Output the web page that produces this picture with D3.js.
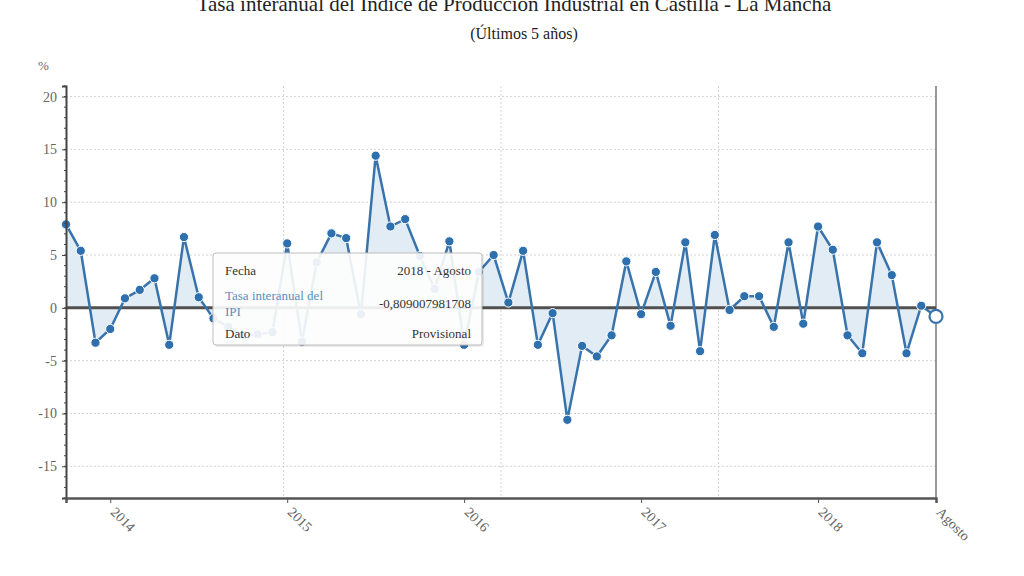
<!DOCTYPE html>
<html>
<head>
<meta charset="utf-8">
<script src="https://cdn.jsdelivr.net/npm/d3@7"></script>
<style>
  body { margin: 0; background: #fff; }
  svg { display: block; font-family: "Liberation Serif", "DejaVu Serif", serif; }
</style>
</head>
<body>
<div id="chart"></div>
<script>
// Tasa interanual del IPI, Castilla - La Mancha, monthly Sep 2013 - Aug 2018
var values = [
  7.9, 5.4, -3.3, -2.0, 0.9, 1.7, 2.8, -3.5, 6.7, 1.0,
  -1.0, -1.8, -2.6, -2.5, -2.3, 6.1, -3.2, 4.3, 7.05, 6.6,
  -0.6, 14.4, 7.7, 8.4, 4.9, 1.8, 6.3, -3.5, 3.4, 5.0,
  0.5, 5.4, -3.5, -0.5, -10.6, -3.6, -4.6, -2.6, 4.4, -0.6,
  3.4, -1.7, 6.2, -4.1, 6.9, -0.2, 1.1, 1.1, -1.8, 6.2,
  -1.5, 7.7, 5.5, -2.6, -4.3, 6.2, 3.1, -4.3, 0.2, -0.809007981708
];
var tickIndex = [3, 15, 27, 39, 51, 59];
var tickLabels = ["2014", "2015", "2016", "2017", "2018", "Agosto"];
var yTicks = [-15, -10, -5, 0, 5, 10, 15, 20];

var tooltipRows = [
  ["Fecha", "2018 - Agosto"],
  ["Tasa interanual del|IPI", "-0,809007981708"],
  ["Dato", "Provisional"]
];

var width = 1024, height = 576;
var margin = { top: 86, right: 88, bottom: 78, left: 66 };
var innerW = width - margin.left - margin.right,
  innerH = height - margin.top - margin.bottom;

var svg = d3.select("#chart").append("svg")
  .attr("width", width).attr("height", height);

// titles (top of the main title is cut by the frame, as in the source)
svg.append("text").attr("x", 514).attr("y", 11)
  .attr("text-anchor", "middle").style("font-size", "21px").style("fill", "#222")
  .text("Tasa interanual del Índice de Producción Industrial en Castilla - La Mancha");
svg.append("text").attr("x", 524).attr("y", 39)
  .attr("text-anchor", "middle").style("font-size", "16px").style("fill", "#222")
  .text("(Últimos 5 años)");
svg.append("text").attr("x", 38).attr("y", 70)
  .style("font-size", "13px").style("fill", "#666").text("%");

var g = svg.append("g")
  .attr("transform", "translate(" + margin.left + "," + margin.top + ")");

var x = d3.scalePoint().domain(d3.range(values.length)).range([0, innerW]);
var y = d3.scaleLinear().domain([-18, 21]).range([innerH, 0]);

// horizontal grid
g.selectAll(".hgrid").data(yTicks).enter().append("line")
  .attr("x1", 0).attr("x2", innerW)
  .attr("y1", function (d) { return y(d); }).attr("y2", function (d) { return y(d); })
  .style("stroke", "#d4d4d4").style("stroke-dasharray", "2,2");

// vertical grid at quarters of the plot
g.selectAll(".vgrid").data([1, 2, 3]).enter().append("line")
  .attr("x1", function (d) { return innerW * d / 4; })
  .attr("x2", function (d) { return innerW * d / 4; })
  .attr("y1", 0).attr("y2", innerH)
  .style("stroke", "#d4d4d4").style("stroke-dasharray", "2,2");

// right border
g.append("line").attr("x1", innerW).attr("x2", innerW)
  .attr("y1", 0).attr("y2", innerH).style("stroke", "#777").style("stroke-width", 1.5);

// area to zero
var area = d3.area()
  .x(function (d, i) { return x(i); })
  .y0(y(0))
  .y1(function (d) { return y(d); });
g.append("path").datum(values).attr("d", area)
  .style("fill", "#e2ecf4");

// zero line
g.append("line").attr("x1", 0).attr("x2", innerW)
  .attr("y1", y(0)).attr("y2", y(0))
  .style("stroke", "#505050").style("stroke-width", 3);

// line
var line = d3.line()
  .x(function (d, i) { return x(i); })
  .y(function (d) { return y(d); });
g.append("path").datum(values).attr("d", line)
  .style("fill", "none").style("stroke", "#3873ab").style("stroke-width", 2.5);

// points
g.selectAll(".pt").data(values.slice(0, values.length - 1)).enter().append("circle")
  .attr("cx", function (d, i) { return x(i); })
  .attr("cy", function (d) { return y(d); })
  .attr("r", 4.6)
  .style("fill", "#2e6fae").style("stroke", "#fff").style("stroke-width", 1);

// hovered last point
var last = values.length - 1;
g.append("circle").attr("cx", x(last)).attr("cy", y(values[last]))
  .attr("r", 6.5).style("fill", "#fff")
  .style("stroke", "#3873ab").style("stroke-width", 2.2);

// left axis
var yAxis = d3.axisLeft(y).tickValues(yTicks).tickSize(4).tickPadding(5)
  .tickFormat(function (d) { return String(d); });
var ya = g.append("g").call(yAxis)
  .attr("font-family", "Liberation Serif, serif").attr("font-size", 14);
ya.select(".domain").style("stroke", "#444").style("stroke-width", 2);
ya.selectAll(".tick line").style("stroke", "#444");
ya.selectAll("text").style("fill", "#666");
// minor ticks
g.selectAll(".minor").data(d3.range(-18, 22)).enter().append("line")
  .attr("x1", -2).attr("x2", 0)
  .attr("y1", function (d) { return y(d); }).attr("y2", function (d) { return y(d); })
  .style("stroke", "#444");

// bottom axis
var xAxis = d3.axisBottom(x).tickValues(tickIndex).tickSize(5)
  .tickFormat(function (d) { return tickLabels[tickIndex.indexOf(d)]; });
var xa = g.append("g").attr("transform", "translate(0," + innerH + ")").call(xAxis)
  .attr("font-family", "Liberation Serif, serif").attr("font-size", 14);
xa.select(".domain").style("stroke", "#555").style("stroke-width", 2.5);
xa.selectAll(".tick line").style("stroke", "#555");
xa.selectAll("text")
  .style("fill", "#666")
  .style("text-anchor", "start")
  .attr("dy", null).attr("y", 0)
  .attr("transform", "translate(-1,15) rotate(45)");

// tooltip
var tip = svg.append("g").attr("transform", "translate(213,253)");
tip.append("rect").attr("x", 2).attr("y", 2).attr("width", 269).attr("height", 92)
  .attr("rx", 3).style("fill", "rgba(0,0,0,0.08)");
tip.append("rect").attr("width", 269).attr("height", 92).attr("rx", 3)
  .style("fill", "rgba(255,255,255,0.9)").style("stroke", "#bdbdbd");
var rowY = [22, 47, 85];
tooltipRows.forEach(function (r, i) {
  var parts = r[0].split("|");
  parts.forEach(function (p, j) {
    tip.append("text").attr("x", 12).attr("y", rowY[i] + j * 16)
      .style("font-size", "13px")
      .style("fill", i === 1 ? "#5a8fbf" : "#333").text(p);
  });
  tip.append("text").attr("x", 258).attr("y", i === 1 ? 55 : rowY[i])
    .attr("text-anchor", "end").style("font-size", "13px").style("fill", "#333")
    .text(r[1]);
});
</script>
</body>
</html>
